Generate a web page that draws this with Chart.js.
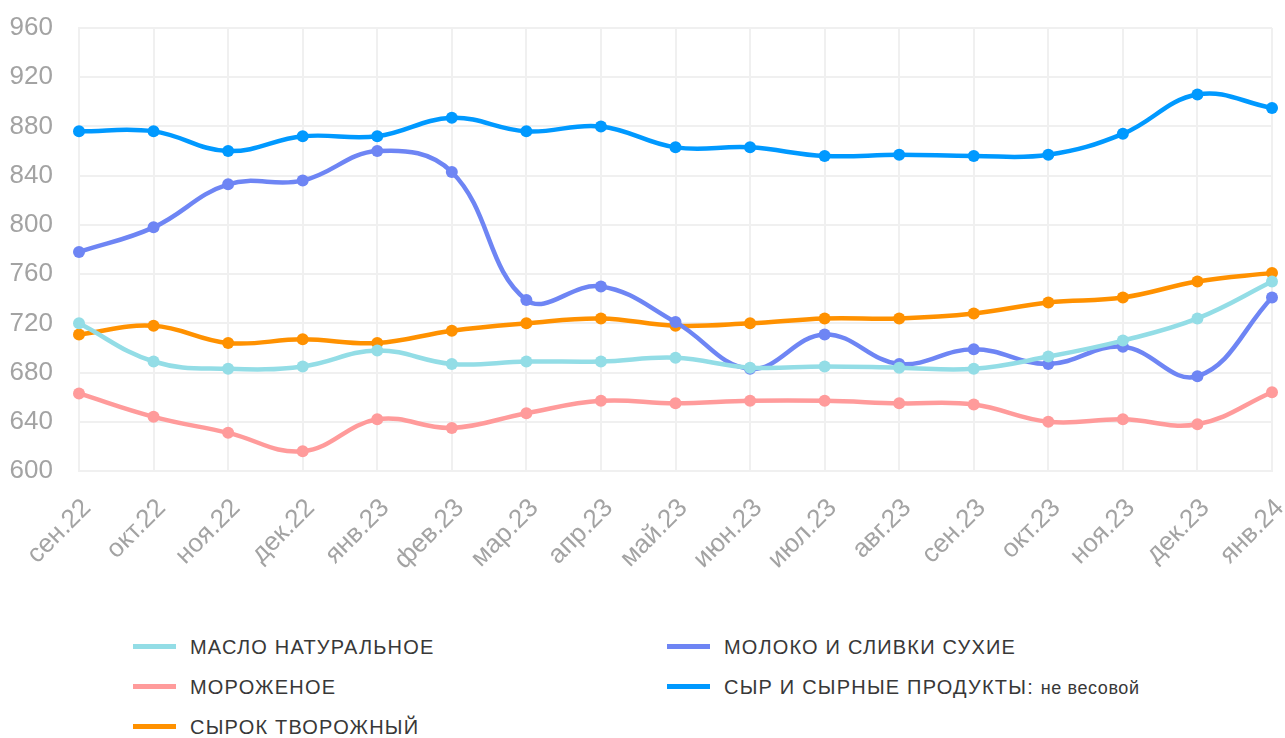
<!DOCTYPE html>
<html>
<head>
<meta charset="utf-8">
<script src="https://cdn.jsdelivr.net/npm/chart.js@4.4.1/dist/chart.umd.min.js"></script>
<style>
  body { margin: 0; background: #fff; font-family: "Liberation Sans", Arial, sans-serif; }
  #wrap { position: relative; width: 1285px; height: 600px; }
  #legend { position: absolute; left: 133px; top: 627px; width: 1100px; }
  .item { position: absolute; height: 40px; line-height: 40px; font-size: 20px; letter-spacing: 1.2px; color: #383838; white-space: nowrap; }
  .item span.mark { display: inline-block; width: 43px; height: 5px; vertical-align: middle; margin-right: 14px; position: relative; top: -2px; }
  .item span.small { font-size: 18px; letter-spacing: 0.6px; }
</style>
</head>
<body>
<div id="wrap"><canvas id="chart"></canvas></div>
<div id="legend"></div>
<script>
'use strict';

var months = ['сен.22', 'окт.22', 'ноя.22', 'дек.22', 'янв.23', 'фев.23', 'мар.23', 'апр.23', 'май.23',
  'июн.23', 'июл.23', 'авг.23', 'сен.23', 'окт.23', 'ноя.23', 'дек.23', 'янв.24'];

var butter = [720, 689, 683, 685, 698, 687, 689, 689, 692, 684, 685, 684, 683, 693, 706, 724, 754];
var milkPowder = [778, 798, 833, 836, 860, 843, 739, 750, 721, 683, 711, 687, 699, 687, 701, 677, 741];
var iceCream = [663, 644, 631, 616, 642, 635, 647, 657, 655, 657, 657, 655, 654, 640, 642, 638, 664];
var cheese = [876, 876, 860, 872, 872, 887, 876, 880, 863, 863, 856, 857, 856, 857, 874, 906, 895];
var curdSnack = [711, 718, 704, 707, 704, 714, 720, 724, 718, 720, 724, 724, 728, 737, 741, 754, 761];

var yTicks = [600, 640, 680, 720, 760, 800, 840, 880, 920, 960];

var seriesNames = ['МАСЛО НАТУРАЛЬНОЕ', 'МОЛОКО И СЛИВКИ СУХИЕ', 'МОРОЖЕНОЕ', 'СЫР И СЫРНЫЕ ПРОДУКТЫ: не весовой', 'СЫРОК ТВОРОЖНЫЙ'];
var seriesColors = ['#93dde6', '#6e85f4', '#ff9b9b', '#0099ff', '#ff9100'];
var seriesValues = [butter, milkPowder, iceCream, cheese, curdSnack];


var makeDataset = function(i){
  return {
    label: seriesNames[i],
    data: seriesValues[i],
    borderColor: seriesColors[i],
    backgroundColor: seriesColors[i],
    borderWidth: 4.5,
    pointRadius: 6,
    pointHoverRadius: 6,
    pointBorderWidth: 0,
    tension: 0.4,
    fill: false
  };
};

var buildLegend = function(){
  var target = document.getElementById('legend');
  seriesNames.forEach((name, i) => {
    var item = document.createElement('div');
    item.className = 'item';
    item.style.left = (i % 2 === 0 ? 0 : 534) + 'px';
    item.style.top = (Math.floor(i / 2) * 40) + 'px';
    var mark = document.createElement('span');
    mark.className = 'mark';
    mark.style.background = seriesColors[i];
    item.appendChild(mark);
    var parts = name.split(': ');
    item.appendChild(document.createTextNode(parts[0] + (parts[1] ? ': ' : '')));
    if (parts[1]) {
      var small = document.createElement('span');
      small.className = 'small';
      small.textContent = parts[1];
      item.appendChild(small);
    }
    target.appendChild(item);
  });
};


var createChart = function(){
  var canvas = document.getElementById('chart');
  var datasets = seriesNames.map((n, i) => makeDataset(i));
  return new Chart(canvas, {
    type: 'line',
    data: { labels: months, datasets: datasets },
    options: {
      responsive: true,
      maintainAspectRatio: false,
      animation: false,
      layout: { padding: { top: 28, right: 13, left: 6, bottom: 19 } },
      plugins: { legend: { display: false }, tooltip: { enabled: false } },
      scales: {
        x: {
          grid: { color: '#f0f0f0', lineWidth: 2, drawTicks: false },
          border: { color: '#f0f0f0', width: 2 },
          ticks: {
            color: '#a3a3a3',
            font: { size: 26, family: '"Liberation Sans", Arial, sans-serif' },
            minRotation: 45, maxRotation: 45, padding: 22, labelOffset: 8
          },
          // fixed axis box so the plot lines up with the picture
          afterFit: s => { s.paddingLeft = 0; s.paddingRight = 0; s.height = 110; }
        },
        y: {
          min: yTicks[0],
          max: yTicks[yTicks.length - 1],
          afterBuildTicks: axis => { axis.ticks = yTicks.map(v => ({ value: v })); },
          afterFit: s => { s.width = 73; s.paddingTop = 0; s.paddingBottom = 0; },
          grid: { color: '#f0f0f0', lineWidth: 2, drawTicks: false },
          border: { color: '#f0f0f0', width: 2 },
          ticks: {
            color: '#a3a3a3',
            font: { size: 26, family: '"Liberation Sans", Arial, sans-serif' },
            padding: 26
          }
        }
      }
    }
  });
};


!function(){
  createChart();
  buildLegend();
}();
</script>
</body>
</html>
